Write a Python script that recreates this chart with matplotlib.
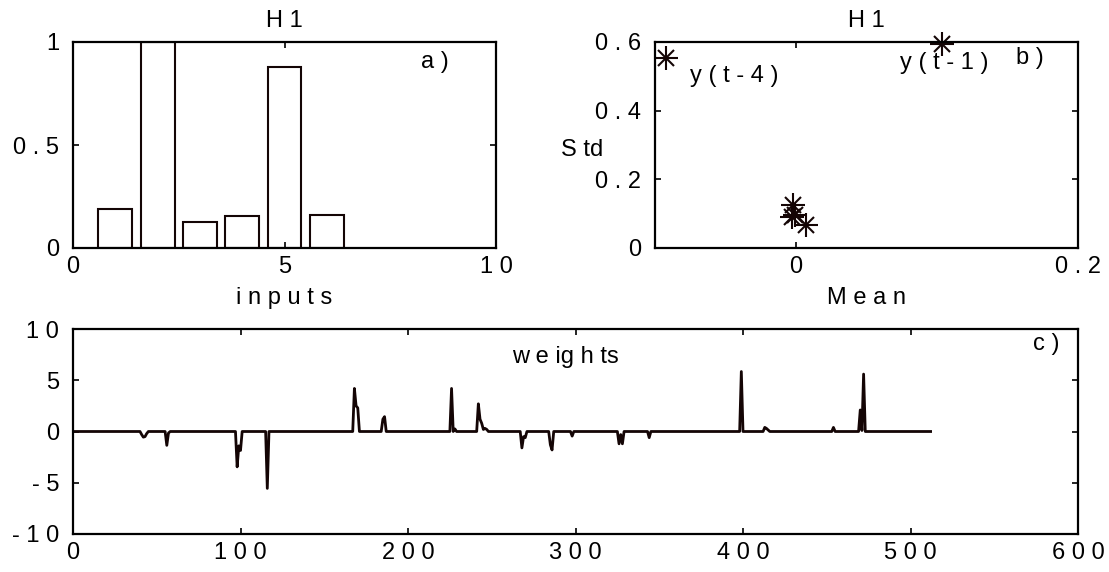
import numpy as np
import matplotlib
matplotlib.use("Agg")
import matplotlib.pyplot as plt

plt.rcParams['font.family'] = ['Liberation Sans', 'DejaVu Sans']
plt.rcParams['font.size'] = 17

# a) relevance of the inputs of hidden unit H1
input_pos = [1, 2, 3, 4, 5, 6]
input_val = [0.189, 1.0, 0.127, 0.155, 0.881, 0.161]

# b) mean / std of the weights per input
mean_vals = [-0.092, 0.1037, -0.0018, -0.001, -0.0026, 0.0072]
std_vals = [0.554, 0.595, 0.124, 0.097, 0.089, 0.066]

# c) weights (non-zero entries, all the others are zero)
n_weights = 512
w_idx = [41, 42, 43, 44, 56, 57, 98, 99, 100, 116,
         168, 169, 170, 185, 186, 226, 228,
         242, 243, 244, 245, 246, 247,
         268, 269, 270, 285, 286, 298, 326, 327, 328, 344,
         399, 413, 414, 415, 454, 470, 471, 472]
w_val = [-0.3, -0.55, -0.5, -0.2, -1.35, -0.15, -3.45, -1.4, -1.85, -5.55,
         4.2, 2.5, 2.3, 1.2, 1.45, 4.2, 0.25,
         2.7, 1.2, 0.8, 0.2, 0.3, 0.2,
         -1.6, -0.5, -0.6, -1.3, -1.8, -0.45, -1.2, -0.3, -1.2, -0.6,
         5.85, 0.4, 0.3, 0.15, 0.4, 2.1, 0.1, 5.6]

weights = np.zeros(n_weights)
weights[np.array(w_idx) - 1] = w_val
w_x = np.arange(1, n_weights + 1)

W, H = 1109, 572
fig = plt.figure(figsize=(W / 100, H / 100), dpi=100)


def px_axes(left, top, right, bottom):
    return fig.add_axes([left / W, (H - bottom) / H, (right - left) / W, (bottom - top) / H])


def style(ax):
    for s in ax.spines.values():
        s.set_linewidth(1.6)
    ax.tick_params(direction='in', top=True, right=True, length=4, width=1.2)
    ax.tick_params(axis='x', pad=6)
    ax.tick_params(axis='y', pad=10)


line_col = '#140505'

# a)
ax1 = px_axes(73, 42, 496, 248)
ax1.bar(input_pos, input_val, width=0.8, facecolor='white', edgecolor=line_col, linewidth=1.5)
ax1.set_xlim(0, 10)
ax1.set_ylim(0, 1)
ax1.set_xticks([0, 5, 10], ['0', '5', '1 0'])
ax1.set_yticks([0, 0.5, 1], ['0', '0 . 5', '1'])
ax1.set_title('H 1', pad=11, fontsize=17)
ax1.set_xlabel('i n p u t s', labelpad=6)
ax1.text(8.22, 0.903, 'a )', va='center', ha='left')
style(ax1)

# b)
ax2 = px_axes(655, 42, 1078, 248)
ax2.plot(mean_vals, std_vals, '+', color=line_col, markersize=17, mew=1.5, clip_on=False)
ax2.plot(mean_vals, std_vals, 'x', color=line_col, markersize=12, mew=1.5, clip_on=False)
ax2.set_xlim(-0.1, 0.2)
ax2.set_ylim(0, 0.6)
ax2.set_xticks([0, 0.2], ['0', '0 . 2'])
ax2.set_yticks([0, 0.2, 0.4, 0.6], ['0', '0 . 2', '0 . 4', '0 . 6'])
ax2.set_title('H 1', pad=11, fontsize=17)
ax2.set_xlabel('M e a n', labelpad=6)
ax2.set_ylabel('S td', rotation=0, ha='right', va='center')
ax2.yaxis.set_label_coords(-0.123, 0.476)
ax2.text(-0.0752, 0.50, 'y ( t - 4 )', va='center', ha='left')
ax2.text(0.074, 0.538, 'y ( t - 1 )', va='center', ha='left')
ax2.text(0.156, 0.553, 'b )', va='center', ha='left')
style(ax2)

# c)
ax3 = px_axes(73, 329, 1078, 534)
ax3.plot(w_x, weights, color=line_col, linewidth=2.0)
ax3.set_xlim(0, 600)
ax3.set_ylim(-10, 10)
ax3.set_xticks(range(0, 601, 100), ['0', '1 0 0', '2 0 0', '3 0 0', '4 0 0', '5 0 0', '6 0 0'])
ax3.set_yticks([-10, -5, 0, 5, 10], ['- 1 0', '- 5', '0', '5', '1 0'])
ax3.text(262, 6.7, 'w e ig h ts', va='baseline', ha='left')
ax3.text(573, 8.5, 'c )', va='center', ha='left')
style(ax3)

fig.savefig('out.png', dpi=100)
